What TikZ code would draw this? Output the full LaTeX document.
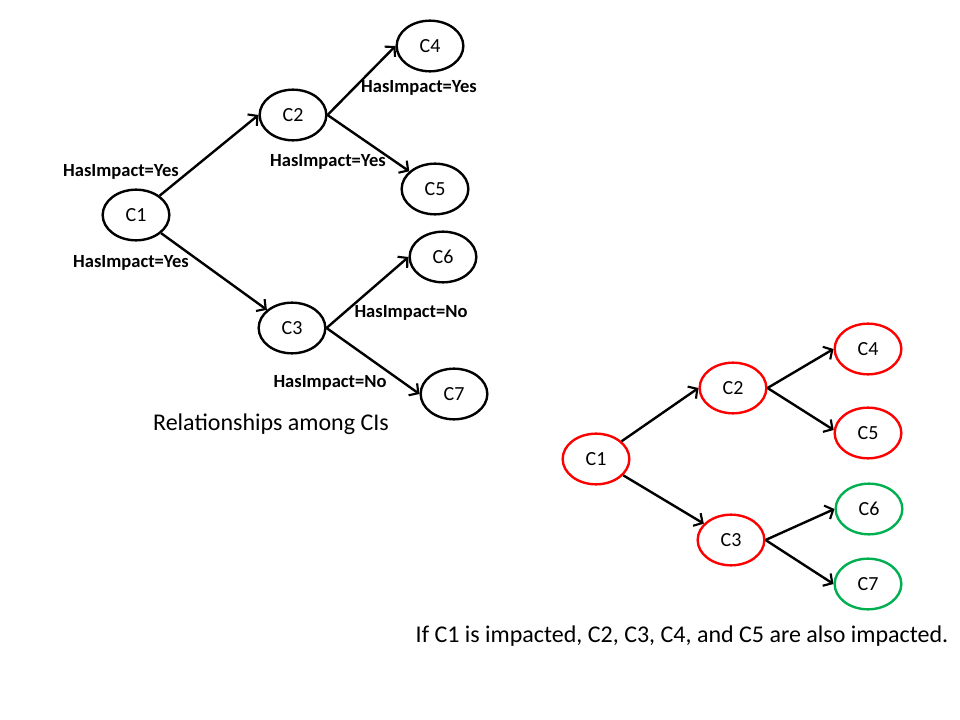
\documentclass[tikz,border=0pt]{standalone}
\usepackage{fontspec}
\setmainfont{Carlito}
\usepackage{tikz}
\usetikzlibrary{arrows.meta, shapes.geometric}
\definecolor{ciRed}{RGB}{255,0,0}
\definecolor{ciGreen}{RGB}{0,176,80}

\begin{document}
\begin{tikzpicture}[x=0.75pt,y=0.75pt,yscale=-1,xscale=1,
  ci/.style={ellipse, draw=black, line width=1.8pt, minimum width=50pt, minimum height=38pt, inner sep=0pt, font=\fontsize{15}{17}\selectfont},
  link/.style={line width=1.8pt, -{Straight Barb[length=5pt,width=11pt,line width=1.6pt]}},
  rel/.style={inner sep=0.75pt, font=\fontsize{13.9}{16}\selectfont\bfseries},
  capt/.style={inner sep=0.75pt, font=\fontsize{18}{21}\selectfont}]
%set diagram size
\useasboundingbox (0,0) rectangle (960,720);

%Shape: Ellipse (left tree)
\node [ci] (lC1) at (136,215) {C1};
\node [ci] (lC2) at (293,115) {C2};
\node [ci] (lC3) at (292,328) {C3};
\node [ci] (lC4) at (430,46) {C4};
\node [ci] (lC5) at (435,189) {C5};
\node [ci] (lC6) at (443,257) {C6};
\node [ci] (lC7) at (454,394) {C7};

%Straight Lines (left tree)
\draw [link] (lC1) -- (lC2.west);
\draw [link] (lC1) -- (lC3);
\draw [link] (lC2.east) -- (lC4.west);
\draw [link] (lC2.east) -- (lC5);
\draw [link] (lC3.east) -- (lC6.west);
\draw [link] (lC3.east) -- (lC7.west);

% Text Node
\node [rel] (yes12) at (121,172) {HasImpact=Yes};
% Text Node
\node [rel] (yes13) at (131,263) {HasImpact=Yes};
% Text Node
\node [rel] (yes24) at (419,88) {HasImpact=Yes};
% Text Node
\node [rel] (yes25) at (328,162) {HasImpact=Yes};
% Text Node
\node [rel] (no36) at (411,313) {HasImpact=No};
% Text Node
\node [rel] (no37) at (330,383) {HasImpact=No};
% Text Node
\node [capt] (relCap) at (271,424) {Relationships among CIs};

%Shape: Ellipse (right tree)
\node [ci, draw=ciRed] (rC1) at (596,459) {C1};
\node [ci, draw=ciRed] (rC2) at (733,388) {C2};
\node [ci, draw=ciRed] (rC3) at (731,540) {C3};
\node [ci, draw=ciRed] (rC4) at (868,349) {C4};
\node [ci, draw=ciRed] (rC5) at (868,433) {C5};
\node [ci, draw=ciGreen] (rC6) at (869,509) {C6};
\node [ci, draw=ciGreen] (rC7) at (868,584) {C7};

%Straight Lines (right tree)
\draw [link] (rC1) -- (rC2.west);
\draw [link] (rC1) -- (rC3);
\draw [link] (rC2.east) -- (rC4.west);
\draw [link] (rC2.east) -- (rC5.175);
\draw [link] (rC3.east) -- (rC6.west);
\draw [link] (rC3.east) -- (rC7.west);

% Text Node
\node [capt] (impCap) at (682,636) {If C1 is impacted, C2, C3, C4, and C5 are also impacted.};

\end{tikzpicture}
\end{document}
